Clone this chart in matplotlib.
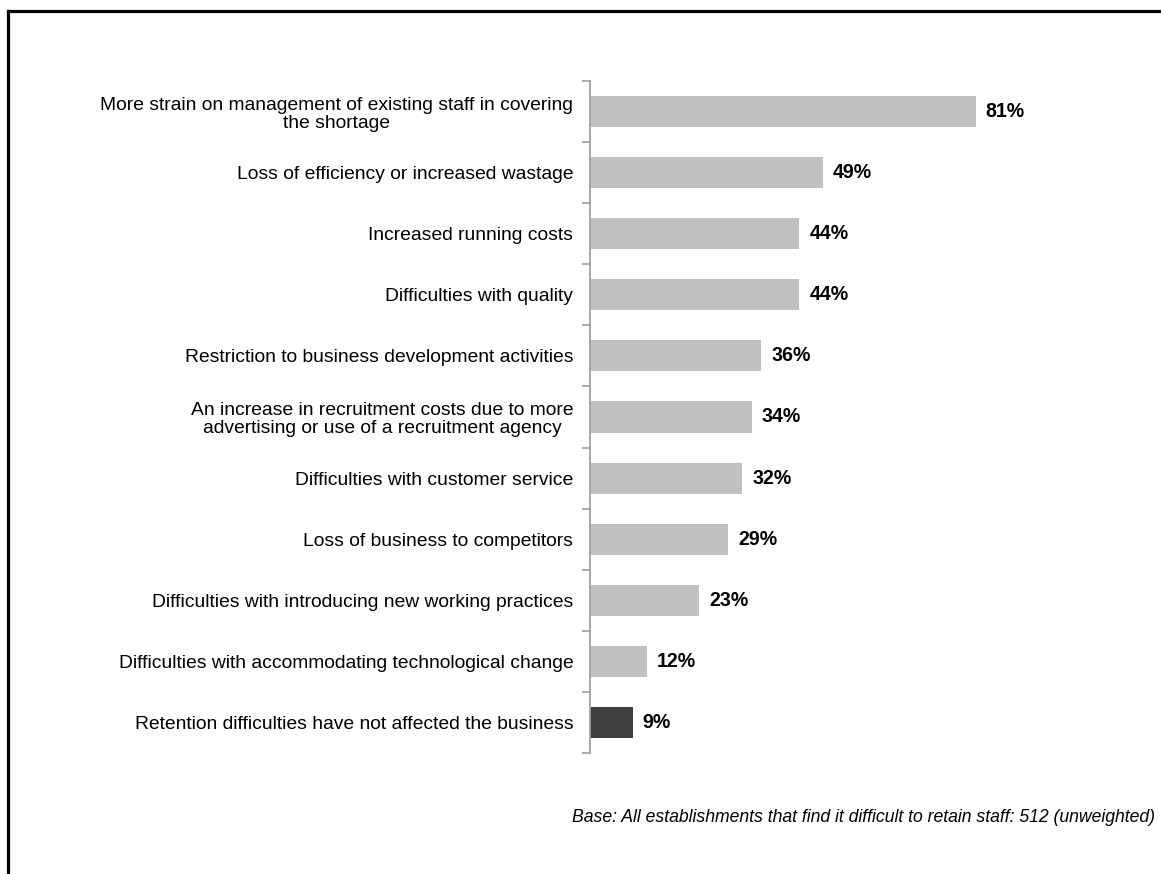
import matplotlib
matplotlib.use("Agg")
import matplotlib.pyplot as plt
from matplotlib.lines import Line2D
from matplotlib.ticker import FixedLocator, NullLocator

categories = [
    "More strain on management of existing staff in covering\nthe shortage",
    "Loss of efficiency or increased wastage",
    "Increased running costs",
    "Difficulties with quality",
    "Restriction to business development activities",
    "An increase in recruitment costs due to more\nadvertising or use of a recruitment agency",
    "Difficulties with customer service",
    "Loss of business to competitors",
    "Difficulties with introducing new working practices",
    "Difficulties with accommodating technological change",
    "Retention difficulties have not affected the business",
]
values = [81, 49, 44, 44, 36, 34, 32, 29, 23, 12, 9]
value_labels = ["81%", "49%", "44%", "44%", "36%", "34%", "32%", "29%", "23%", "12%", "9%"]
bar_colors = ["#c0c0c0"] * 10 + ["#404040"]
footnote = "Base: All establishments that find it difficult to retain staff: 512 (unweighted)"

plt.rcParams["font.family"] = ["Liberation Sans", "DejaVu Sans"]

W, H = 1161, 874
fig = plt.figure(figsize=(W / 100, H / 100), dpi=100)
fig.patch.set_facecolor("white")

ax = fig.add_axes([590 / W, 1 - 753 / H, (1066 - 590) / W, (753 - 81) / H])
n = len(categories)
ypos = list(range(n))
ax.barh(ypos, values, height=0.51, color=bar_colors, edgecolor="none")
ax.set_xlim(0, 100)
ax.set_ylim(n - 0.5, -0.5)

for y, v, lab in zip(ypos, values, value_labels):
    ax.text(v + 2.1, y, lab, va="center", ha="left", fontsize=14.1,
            fontweight="bold", color="#000000")

ax.set_yticks(ypos)
ax.set_yticklabels(categories, fontsize=13.85, color="#000000", linespacing=1.08)
for t in ax.get_yticklabels():
    t.set_multialignment("center")
ax.tick_params(axis="y", which="major", length=0, pad=12)
ax.yaxis.set_minor_locator(FixedLocator([i - 0.5 for i in range(n + 1)]))
ax.tick_params(axis="y", which="minor", length=6, width=1.2, color="#a0a0a0", direction="out")
ax.xaxis.set_major_locator(NullLocator())

for side in ("top", "right", "bottom"):
    ax.spines[side].set_visible(False)
ax.spines["left"].set_color("#a0a0a0")
ax.spines["left"].set_linewidth(1.3)

fig.text(1155 / W, 1 - 817 / H, footnote, ha="right", va="center",
         fontsize=12.7, style="italic", color="#000000")

# outer frame (left and top edges)
fig.add_artist(Line2D([8 / W, 8 / W], [0, 1 - 11 / H], transform=fig.transFigure,
                      color="black", linewidth=2.3, solid_capstyle="projecting"))
fig.add_artist(Line2D([8 / W, 1], [1 - 11 / H, 1 - 11 / H], transform=fig.transFigure,
                      color="black", linewidth=2.3, solid_capstyle="projecting"))

fig.savefig("out.png", dpi=100, facecolor="white")
